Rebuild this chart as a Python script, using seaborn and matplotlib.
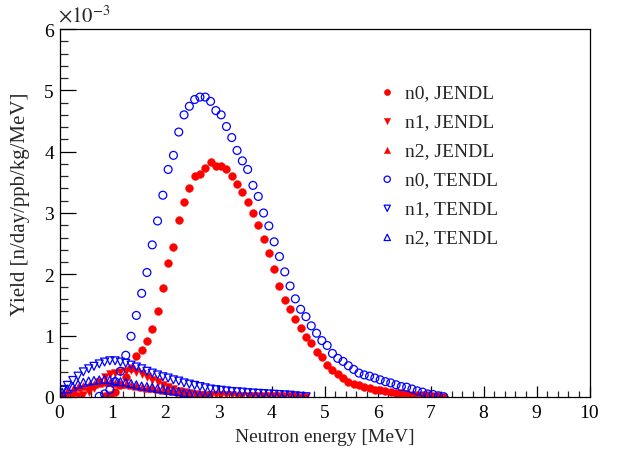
import numpy as np
import pandas as pd
import matplotlib
matplotlib.use("Agg")
import matplotlib.pyplot as plt
import seaborn as sns
from matplotlib.ticker import MultipleLocator

# Yields in units of 1e-3 n/day/ppb/kg/MeV, 0.1 MeV wide bins (first bin centre given)
n0_jendl_start = 0.85
n0_jendl = [0.01, 0.03, 0.08, 0.20, 0.33, 0.48, 0.67, 0.77, 0.92, 1.11,
            1.41, 1.77, 2.18, 2.45, 2.89, 3.18, 3.41, 3.61, 3.64, 3.73,
            3.83, 3.77, 3.77, 3.72, 3.61, 3.48, 3.35, 3.18, 3.00, 2.80,
            2.58, 2.34, 2.09, 1.81, 1.58, 1.43, 1.27, 1.13, 0.98, 0.88,
            0.74, 0.65, 0.52, 0.44, 0.37, 0.31, 0.25, 0.22, 0.20, 0.16,
            0.14, 0.12, 0.11, 0.09, 0.08, 0.065, 0.06, 0.05, 0.04, 0.035,
            0.03, 0.025, 0.02, 0.01, 0.005]

n1_jendl_start = 0.05
n1_jendl = [0.01, 0.01, 0.015, 0.02, 0.04, 0.08, 0.15, 0.25, 0.33, 0.37,
            0.39, 0.41, 0.43, 0.44, 0.41, 0.37, 0.32, 0.28, 0.24, 0.20,
            0.16, 0.13, 0.10, 0.08, 0.06, 0.05, 0.04, 0.035, 0.03, 0.03,
            0.028, 0.026, 0.025, 0.024, 0.022, 0.02, 0.019, 0.018, 0.017, 0.016,
            0.015, 0.014, 0.012, 0.011, 0.009, 0.007, 0.005]

n2_jendl_start = 0.05
n2_jendl = [0.05, 0.10, 0.13, 0.16, 0.18, 0.20, 0.22, 0.23, 0.24, 0.24,
            0.23, 0.22, 0.21, 0.20, 0.18, 0.17, 0.15, 0.14, 0.13, 0.12,
            0.11, 0.10, 0.08, 0.07, 0.05, 0.04, 0.03, 0.015, 0.005]

n0_tendl_start = 0.75
n0_tendl = [0.01, 0.05, 0.12, 0.25, 0.42, 0.68, 0.99, 1.33, 1.69, 2.03,
            2.48, 2.87, 3.29, 3.71, 3.94, 4.32, 4.60, 4.74, 4.85, 4.89,
            4.89, 4.82, 4.67, 4.60, 4.41, 4.23, 4.02, 3.85, 3.71, 3.45,
            3.27, 3.00, 2.79, 2.53, 2.29, 2.04, 1.81, 1.60, 1.43, 1.31,
            1.16, 1.04, 0.92, 0.84, 0.71, 0.63, 0.58, 0.51, 0.45, 0.39,
            0.36, 0.34, 0.31, 0.28, 0.25, 0.23, 0.20, 0.17, 0.16, 0.13,
            0.10, 0.08, 0.05, 0.04, 0.02, 0.005]

n1_tendl_start = 0.05
n1_tendl = [0.11, 0.19, 0.27, 0.34, 0.41, 0.46, 0.50, 0.54, 0.57, 0.59,
            0.59, 0.57, 0.55, 0.52, 0.49, 0.46, 0.42, 0.39, 0.36, 0.33,
            0.31, 0.28, 0.26, 0.23, 0.21, 0.19, 0.17, 0.15, 0.13, 0.12,
            0.11, 0.10, 0.09, 0.085, 0.08, 0.07, 0.065, 0.06, 0.055, 0.05,
            0.045, 0.04, 0.035, 0.03, 0.02, 0.012, 0.005]

n2_tendl_start = 0.05
n2_tendl = [0.08, 0.13, 0.17, 0.21, 0.24, 0.26, 0.27, 0.28, 0.29, 0.28,
            0.27, 0.25, 0.24, 0.22, 0.20, 0.18, 0.17, 0.16, 0.14, 0.13,
            0.11, 0.10, 0.09, 0.07, 0.06, 0.045, 0.03, 0.015, 0.005]


def bin_centers(start, n):
    return np.round(start + 0.1 * np.arange(n), 2)


sns.set_theme(style="white")
plt.rcParams["font.family"] = ["Liberation Serif", "DejaVu Serif"]
plt.rcParams["mathtext.fontset"] = "stix"

fig = plt.figure(figsize=(6.2, 4.56), dpi=100)
ax = fig.add_axes([59.5 / 620, 58 / 456, 530 / 620, 368 / 456])

series = [
    ("n0, JENDL", n0_jendl_start, n0_jendl, "o", True),
    ("n1, JENDL", n1_jendl_start, n1_jendl, "v", True),
    ("n2, JENDL", n2_jendl_start, n2_jendl, "^", True),
    ("n0, TENDL", n0_tendl_start, n0_tendl, "o", False),
    ("n1, TENDL", n1_tendl_start, n1_tendl, "v", False),
    ("n2, TENDL", n2_tendl_start, n2_tendl, "^", False),
]

for label, start, vals, marker, filled in series:
    df = pd.DataFrame({"energy": bin_centers(start, len(vals)), "yield": vals})
    if filled:
        sns.scatterplot(data=df, x="energy", y="yield", marker=marker, color="red",
                        edgecolor="red", linewidth=0.3, s=32, label=label, ax=ax)
    else:
        sns.scatterplot(data=df, x="energy", y="yield", marker=marker, facecolor="none",
                        edgecolor="blue", linewidth=0.9, s=32, label=label, ax=ax)

ax.set_xlim(0, 10)
ax.set_ylim(0, 6)
ax.xaxis.set_major_locator(MultipleLocator(1))
ax.xaxis.set_minor_locator(MultipleLocator(0.2))
ax.yaxis.set_major_locator(MultipleLocator(1))
ax.yaxis.set_minor_locator(MultipleLocator(0.2))

ax.tick_params(axis="x", which="major", direction="in", length=8, width=0.9,
               top=False, bottom=True, labelsize=14, pad=5, colors="black")
ax.tick_params(axis="x", which="minor", direction="in", length=4, width=0.9,
               top=False, bottom=True)
ax.tick_params(axis="y", which="major", direction="in", length=11.5, width=0.9,
               right=False, left=True, labelsize=14, pad=4, colors="black")
ax.tick_params(axis="y", which="minor", direction="in", length=5.8, width=0.9,
               right=False, left=True)

for sp in ax.spines.values():
    sp.set_color("black")
    sp.set_linewidth(0.9)

ax.set_xlabel("Neutron energy [MeV]", fontsize=14, labelpad=5)
ax.set_ylabel("Yield [n/day/ppb/kg/MeV]", fontsize=15)
ax.yaxis.set_label_coords(-0.056, 0.527)

fig.text(58 / 620, 1 - 27 / 456, r"$\times10^{-3}$", fontsize=15,
         ha="left", va="bottom")

ax.legend(loc="upper left", bbox_to_anchor=(0.60, 0.852), frameon=False,
          fontsize=14, handlelength=1.0, handletextpad=0.4, labelspacing=0.59,
          markerscale=0.8, borderpad=0, borderaxespad=0)

fig.savefig("out.png", dpi=100)
